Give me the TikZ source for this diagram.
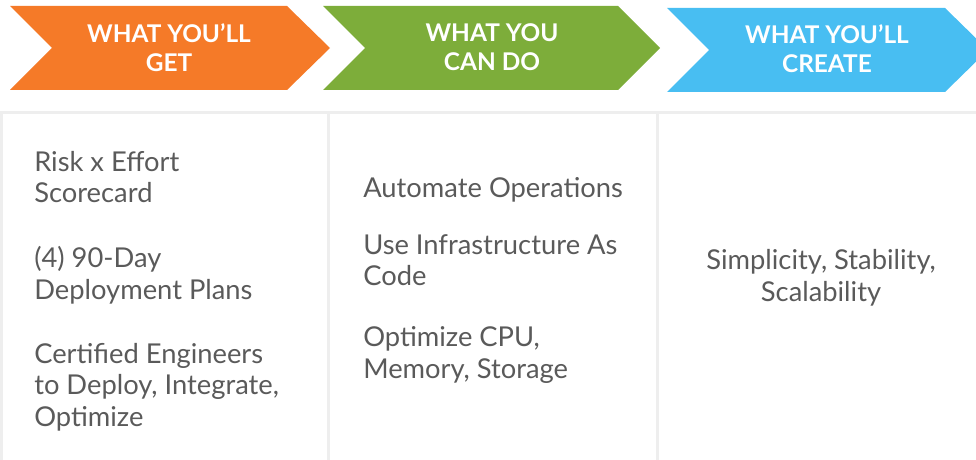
\documentclass[tikz,border=0pt]{standalone}
\usepackage{fontspec}
\setmainfont{Lato}
\usetikzlibrary{positioning}

\definecolor{getorange}{HTML}{F57A28}
\definecolor{dogreen}{HTML}{7DAD3A}
\definecolor{createblue}{HTML}{48BEF2}
\definecolor{rulegray}{HTML}{EEEEEE}
\definecolor{itemgray}{HTML}{5A5A5A}

\begin{document}
\begin{tikzpicture}[x=0.75pt,y=-0.75pt]

    \tikzset{
      head/.style={
        text=white,
        font=\bfseries\fontsize{18.3}{21.75}\selectfont,
        align=center,
        inner sep=0pt,
        anchor=base,
      },
      item/.style={
        text=itemgray,
        font=\fontsize{20.5}{23.6}\selectfont,
        align=left,
        inner sep=0pt,
        anchor=base west,
      },
      rule/.style={draw=rulegray, line width=2.25pt},
    }
    \useasboundingbox (0,0) rectangle (976,460);
    \clip (0,0) rectangle (976,460);

    % chevrons
    \fill[getorange] (10,6) -- (287,6) -- (330,48) -- (287,90) -- (10,90) -- (52,48) -- cycle;
    \fill[dogreen] (323,6) -- (618,6) -- (660,48) -- (618,90) -- (323,90) -- (365,48) -- cycle;
    \fill[createblue] (667,8) -- (945,8) -- (988,50) -- (945,92) -- (667,92) -- (709,50) -- cycle;
    % labels sit on the baseline of their last line
    \node[head] (get) at (169,72) {WHAT YOU'LL\\GET};
    \node[head] (cando) at (492,71) {WHAT YOU\\CAN DO};
    \node[head] (create) at (827,73) {WHAT YOU’LL\\CREATE};

    % table
    \draw[rule] (0,113) -- (976,113);
    \draw[rule] (1.5,113) -- (1.5,460);
    \draw[rule] (328.5,113) -- (328.5,460);
    \draw[rule] (657,113) -- (657,460);

    \node[item] (scorecard) at (34,203) {Risk x Effort\\Scorecard};
    \node[item] (plans) at (34,299) {(4) 90-Day\\Deployment Plans};
    \node[item] (engineers) at (34,426) {Certified Engineers\\to Deploy, Integrate,\\Optimize};

    \node[item] (automate) at (363,197) {Automate Operations};
    \node[item] (iac) at (363,286) {Use Infrastructure As\\Code};
    \node[item] (optimize) at (363,378) {Optimize CPU,\\Memory, Storage};

    \node[item, align=center, anchor=base] (simple) at (821,301) {Simplicity, Stability,\\Scalability};

\end{tikzpicture}
\end{document}
